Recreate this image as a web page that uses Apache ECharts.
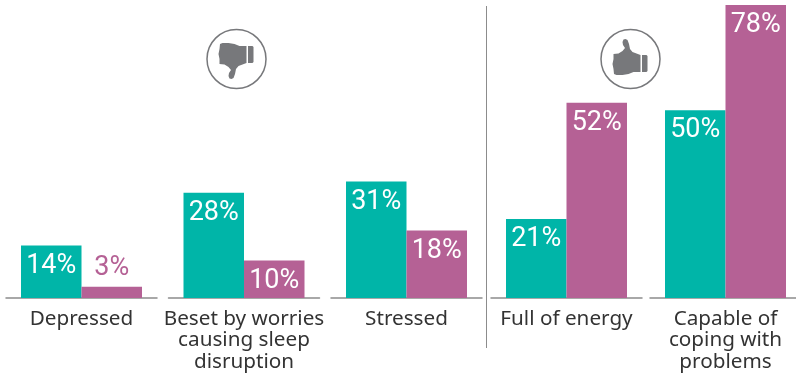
<!DOCTYPE html>
<html>
<head>
<meta charset="utf-8">
<style>html,body{margin:0;padding:0;background:#fff}#c{width:796px;height:374px}</style>
<script src="https://cdn.jsdelivr.net/npm/echarts@6/dist/echarts.min.js"></script>
</head>
<body>
<div id="c"></div>
<script>
const categories = ['Depressed', 'Beset by worries\ncausing sleep\ndisruption', 'Stressed', 'Full of energy', 'Capable of\ncoping with\nproblems'];
const tealValues = [14, 28, 31, 21, 50];
const purpleValues = [3, 10, 18, 52, 78];

const TEAL = '#00b5a8', PURPLE = '#b56195', GREY = '#77787b';
const groupLeft = [6, 168.5, 331, 491, 650];
const groupWidth = 151;

const fistPoints = [[-17,-5],[-12,-5.5],[-8,-8],[-5.5,-11],[-7.5,-14],[-8,-17],[-7,-19.5],[-5,-20],[-3,-19],[-1.5,-15],[-0.5,-10],[2,-7],[10,-4],[10,13],[3,13],[-2,15],[-8,16],[-14,16],[-16.5,15],[-17,10],[-18,5],[-17,0]];
const cuffPoints = [[11.5,-4],[16,-4],[17,-3],[17,12],[16,13],[11.5,13]];

const grids = [], xAxes = [], yAxes = [], series = [];
categories.forEach((cat, i) => {
  grids.push({left: groupLeft[i], width: groupWidth, top: 5, height: 293, outerBoundsMode: 'none'});
  xAxes.push({
    type: 'category', gridIndex: i, data: [cat],
    axisTick: {show: false},
    axisLine: {lineStyle: {color: '#8c8c8c', width: 1.5}},
    axisLabel: {color: '#333333', fontFamily: '"Noto Sans", sans-serif', fontSize: 20.7, lineHeight: 21.5, margin: 10, interval: 0}
  });
  yAxes.push({type: 'value', gridIndex: i, min: 0, max: 78, show: false, splitLine: {show: false}});
  const vals = [[tealValues[i], TEAL], [purpleValues[i], PURPLE]];
  vals.forEach(([v, color]) => {
    const small = v < 5;
    series.push({
      type: 'bar', xAxisIndex: i, yAxisIndex: i, barWidth: 60.5, barGap: 0,
      itemStyle: {color},
      label: {
        show: true, position: small ? 'top' : 'insideTop', distance: small ? 5 : 7,
        formatter: '{c}%', color: small ? PURPLE : '#ffffff', fontFamily: 'Roboto, sans-serif', fontSize: 27
      },
      data: [v]
    });
  });
});

const icon = (cx, flip) => [
  {type: 'circle', shape: {cx, cy: 59, r: 29.5}, style: {fill: '#fff', stroke: GREY, lineWidth: 1.5}},
  {type: 'polygon', x: cx, y: 59, scaleY: flip ? -1 : 1, shape: {points: fistPoints}, style: {fill: GREY}},
  {type: 'polygon', x: cx, y: 59, scaleY: flip ? -1 : 1, shape: {points: cuffPoints}, style: {fill: GREY}}
];

const chart = echarts.init(document.getElementById('c'), null, {renderer: 'canvas'});
chart.setOption({
  animation: false,
  backgroundColor: '#fff',
  grid: grids, xAxis: xAxes, yAxis: yAxes, series,
  graphic: [
    {type: 'line', shape: {x1: 486.5, y1: 6, x2: 486.5, y2: 348}, style: {stroke: '#8c8c8c', lineWidth: 1}},
    ...icon(236.5, true),
    ...icon(630.5, false)
  ]
});
</script>
</body>
</html>
